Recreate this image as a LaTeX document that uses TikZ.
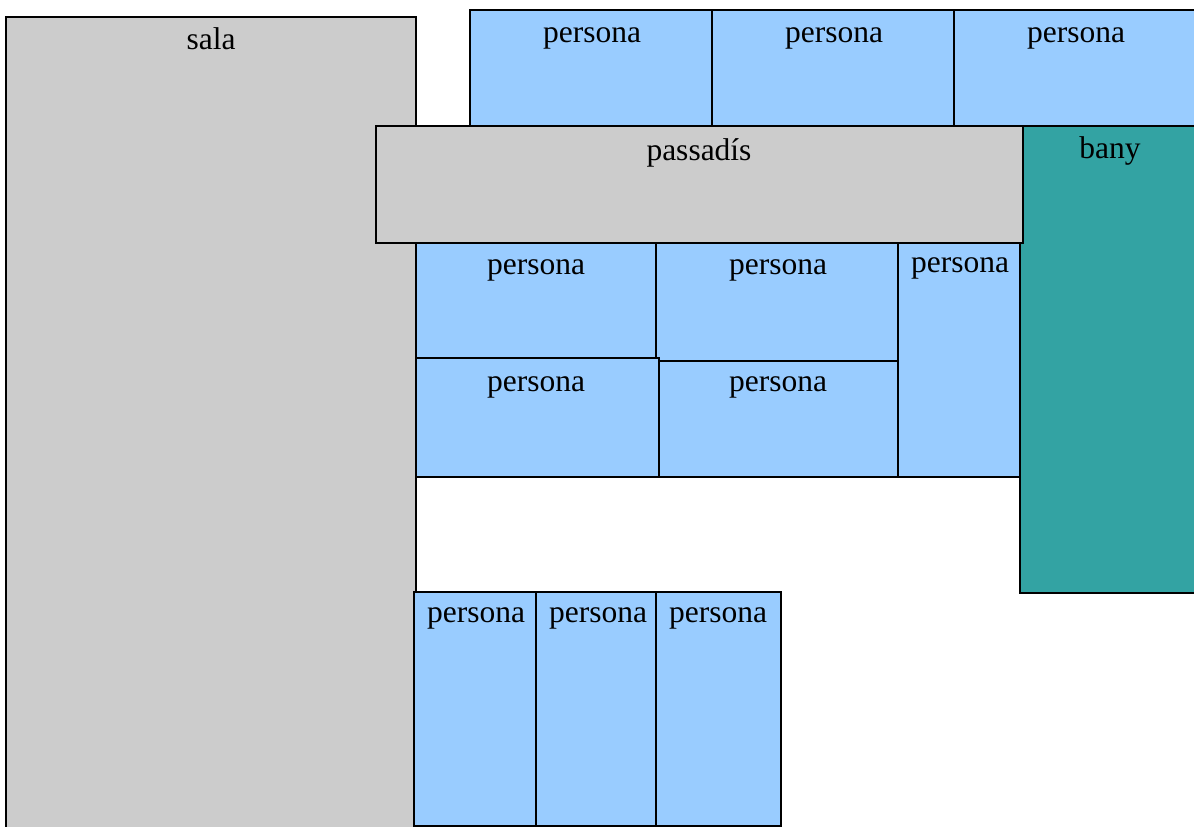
\documentclass[tikz,border=0pt]{standalone}
\usepackage{fontspec}
\setmainfont{Liberation Serif}
\definecolor{pblue}{HTML}{99CCFF}
\definecolor{rgray}{HTML}{CCCCCC}
\definecolor{bteal}{HTML}{33A3A3}
\begin{document}
\begin{tikzpicture}[x=1pt,y=-1pt,
  room/.style={draw=black,line width=2pt},
  pers/.style={room,fill=pblue},
  grayroom/.style={room,fill=rgray},
  bathroom/.style={room,fill=bteal},
  lbl/.style={anchor=base,inner sep=0pt,font=\fontsize{31.5}{36}\selectfont}]
\useasboundingbox (0,0) rectangle (1194,827);
\clip (0,0) rectangle (1194,827);
% sala
\path[grayroom] (6,17) rectangle (416,840);
\node[lbl] (sala) at (211,49) {sala};
% top personas
\path[pers] (470,10) rectangle (712,126);
\path[pers] (712,10) rectangle (954,126);
\path[pers] (954,10) rectangle (1210,126);
\node[lbl] (p1) at (592,42) {persona};
\node[lbl] (p2) at (834,42) {persona};
\node[lbl] (p3) at (1076,42) {persona};
% bany
\path[bathroom] (1020,126) rectangle (1210,593);
\node[lbl] (bany) at (1110,158) {bany};
% passadis
\path[grayroom] (376,126) rectangle (1023,243);
\node[lbl] (pas) at (699,160) {passadís};
% middle personas
\path[pers] (416,243) rectangle (656,358);
\path[pers] (656,243) rectangle (898,361);
\path[pers] (898,243) rectangle (1020,477);
\path[pers] (416,358) rectangle (659,477);
\path[pers] (659,361) rectangle (898,477);
\node[lbl] (p4) at (536,274) {persona};
\node[lbl] (p5) at (778,274) {persona};
\node[lbl] (p6) at (960,272) {persona};
\node[lbl] (p7) at (536,391) {persona};
\node[lbl] (p8) at (778,391) {persona};
% bottom personas
\path[pers] (414,592) rectangle (536,826);
\path[pers] (536,592) rectangle (656,826);
\path[pers] (656,592) rectangle (781,826);
\node[lbl] (p9) at (476,622) {persona};
\node[lbl] (p10) at (598,622) {persona};
\node[lbl] (p11) at (718,622) {persona};
\end{tikzpicture}
\end{document}
